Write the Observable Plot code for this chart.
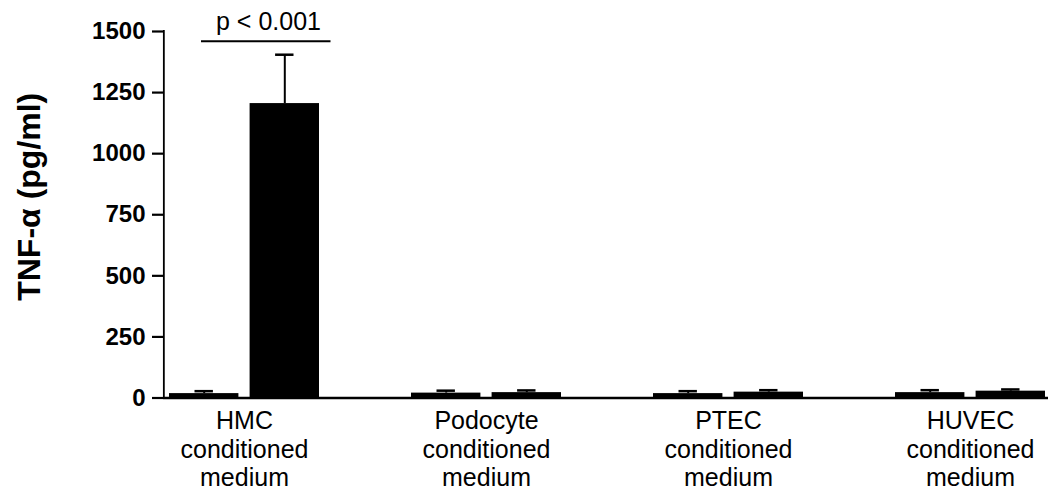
<!DOCTYPE html>
<html>
<head>
<meta charset="utf-8">
<script src="https://cdn.jsdelivr.net/npm/d3@7"></script>
<script src="https://cdn.jsdelivr.net/npm/@observablehq/plot@0.6"></script>
<style>
  body { margin: 0; background: #fff; }
  svg { font-family: "Liberation Sans", Arial, Helvetica, sans-serif; }
</style>
</head>
<body>
<div id="chart"></div>
<script>
// Cell types whose conditioned medium was assayed
const groups = ["HMC", "Podocyte", "PTEC", "HUVEC"];
const groupLabels = [
  "HMC\nconditioned\nmedium",
  "Podocyte\nconditioned\nmedium",
  "PTEC\nconditioned\nmedium",
  "HUVEC\nconditioned\nmedium"
];

// TNF-α (pg/ml): left bar of each pair, mean and error
const controlMean = [18, 20, 18, 22];
const controlErr = [10, 10, 10, 10];

// TNF-α (pg/ml): right bar of each pair, mean and error
const treatedMean = [1205, 22, 24, 28];
const treatedErr = [200, 9, 8, 7];

const yTicks = [0, 250, 500, 750, 1000, 1250, 1500];

// Significance bracket over the HMC pair
const significance = [{group: "HMC", level: 1460, label: "p < 0.001"}];

const control = groups.map((g, i) => ({group: g, mean: controlMean[i], top: controlMean[i] + controlErr[i]}));
const treated = groups.map((g, i) => ({group: g, mean: treatedMean[i], top: treatedMean[i] + treatedErr[i]}));

// band layout shared by the plot's x scale and the offsets below
const xRange = [163, 1052];
const xPaddingInner = 0.38;
const xPaddingOuter = 0.02;
const band = d3.scaleBand().domain(groups).range(xRange)
  .paddingInner(xPaddingInner).paddingOuter(xPaddingOuter);
const bandwidth = band.bandwidth();
const barWidth = 70;
const half = bandwidth / 2 - barWidth / 2;

// the y-axis line is a thin filled strip at the frame's left edge,
// expressed as insets of the first band
const axisHalfWidth = 1.2;
const axisInsetLeft = (xRange[0] - axisHalfWidth) - band(groups[0]);
const axisInsetRight = band(groups[0]) + bandwidth - (xRange[0] + axisHalfWidth);

// each band holds two bars side by side with a small gap
function pair(data, side) {
  const inset = side < 0 ? {insetRight: bandwidth - barWidth} : {insetLeft: bandwidth - barWidth};
  const dx = side * half;
  return [
    Plot.barY(data, {x: "group", y: "mean", fill: "black", ...inset}),
    Plot.ruleX(data, {x: "group", y1: "mean", y2: "top", stroke: "black", strokeWidth: 2, dx}),
    Plot.tickY(data, {x: "group", y: "top", stroke: "black", strokeWidth: 2.5, dx,
      insetLeft: bandwidth / 2 - 9.5, insetRight: bandwidth / 2 - 9.5})
  ];
}

const chart = Plot.plot({
  width: 1048,
  height: 490,
  marginTop: 31,
  marginBottom: 92.5,
  marginLeft: 163,
  marginRight: 0,
  style: {fontFamily: "'Liberation Sans', Arial, Helvetica, sans-serif", color: "black", background: "white"},
  x: {type: "band", domain: groups, range: xRange, paddingInner: xPaddingInner, paddingOuter: xPaddingOuter, axis: null},
  y: {domain: [0, 1500], axis: null},
  marks: [
    Plot.axisY({ticks: yTicks, tickSize: 11, tickPadding: 7, fontSize: 24, fontWeight: "bold",
      strokeWidth: 2.2, tickFormat: d => String(d), label: null}),
    // vertical axis line along the left edge of the frame
    Plot.barY([groups[0]], {x: d => d, y1: yTicks[0], y2: yTicks[yTicks.length - 1],
      insetLeft: axisInsetLeft, insetRight: axisInsetRight, insetTop: -1, fill: "black"}),
    ...pair(control, -1),
    ...pair(treated, 1),
    Plot.ruleY([0], {strokeWidth: 2.5}),
    Plot.axisX({tickSize: 0, tickPadding: 11, fontSize: 25, lineHeight: 1.14, label: null,
      tickFormat: g => groupLabels[groups.indexOf(g)]}),
    Plot.text(["TNF-α (pg/ml)"], {frameAnchor: "left", textAnchor: "middle", rotate: -90,
      dx: -134, dy: -18, fontSize: 32, fontWeight: "bold"}),
    Plot.ruleY(significance, {x1: "group", x2: "group", y: "level", insetLeft: 32, insetRight: -11.5,
      strokeWidth: 2}),
    Plot.text(significance, {x: "group", y: "level", text: "label", dx: 24, dy: -19, fontSize: 25})
  ]
});

document.getElementById("chart").append(chart);
</script>
</body>
</html>
